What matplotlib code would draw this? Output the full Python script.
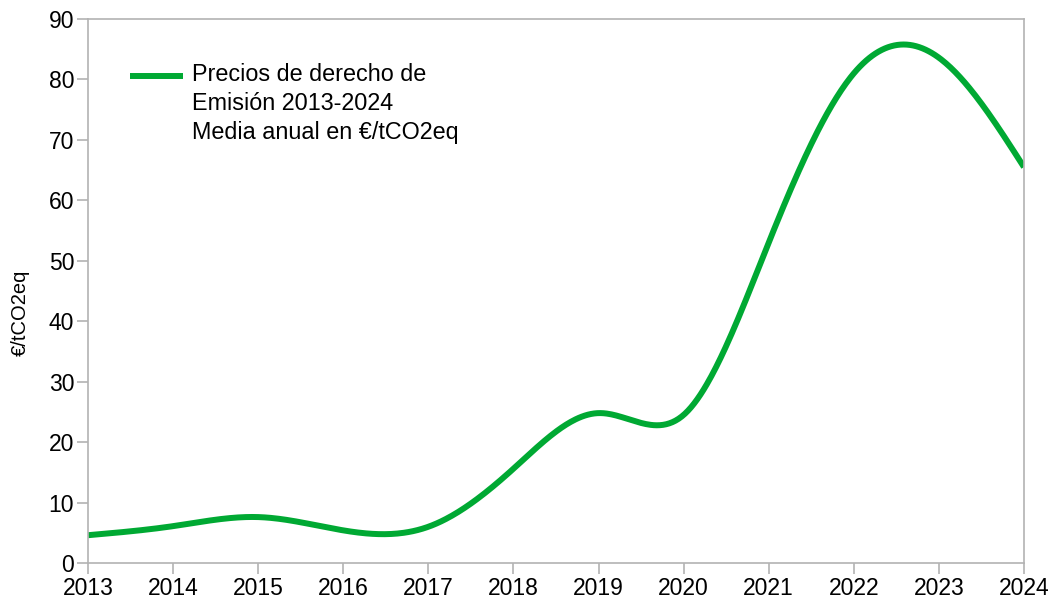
import matplotlib.pyplot as plt
import numpy as np

plt.rcParams['font.family'] = ['Liberation Sans', 'DejaVu Sans']

years = [2013, 2014, 2015, 2016, 2017, 2018, 2019, 2020, 2021, 2022, 2023, 2024]
precios = [4.6, 6.1, 7.6, 5.4, 6.0, 15.6, 24.8, 24.5, 53.0, 81.0, 83.6, 65.5]
etiqueta = 'Precios de derecho de\nEmisión 2013-2024\nMedia anual en €/tCO2eq'


def natural_spline(x, y, n=600):
    """Smooth the line like the spreadsheet's cubic spline option."""
    x = np.asarray(x, float)
    y = np.asarray(y, float)
    k = len(x)
    h = np.diff(x)
    A = np.zeros((k, k))
    b = np.zeros(k)
    A[0, 0] = 1
    A[-1, -1] = 1
    for i in range(1, k - 1):
        A[i, i - 1] = h[i - 1]
        A[i, i] = 2 * (h[i - 1] + h[i])
        A[i, i + 1] = h[i]
        b[i] = 6 * ((y[i + 1] - y[i]) / h[i] - (y[i] - y[i - 1]) / h[i - 1])
    M = np.linalg.solve(A, b)
    xs = np.linspace(x[0], x[-1], n)
    idx = np.clip(np.searchsorted(x, xs) - 1, 0, k - 2)
    x0, x1 = x[idx], x[idx + 1]
    hh = x1 - x0
    t0 = x1 - xs
    t1 = xs - x0
    ys = (M[idx] * t0**3 + M[idx + 1] * t1**3) / (6 * hh) \
        + (y[idx] / hh - M[idx] * hh / 6) * t0 \
        + (y[idx + 1] / hh - M[idx + 1] * hh / 6) * t1
    return xs, ys


fig = plt.figure(figsize=(10.54, 6.05), dpi=100)
ax = fig.add_axes([0.0835, 0.0694, 0.888, 0.8992])

verde = '#00a933'
xs, ys = natural_spline(years, precios)
ax.plot(xs, ys, color=verde, lw=4.3, solid_capstyle='butt')

ax.set_xlim(2013, 2024)
ax.set_ylim(0, 90)
ax.set_xticks(years)
ax.set_yticks(range(0, 91, 10))
ax.tick_params(colors='#b3b3b3', labelcolor='black', labelsize=16.5, length=8, width=1.2, pad=2)
for s in ax.spines.values():
    s.set_color('#b3b3b3')
    s.set_linewidth(1.2)
ax.set_ylabel('€/tCO2eq', fontsize=14.5)
ax.yaxis.set_label_coords(-0.062, 0.46)

# legend drawn by hand: key sits beside the first text line
ax.plot([0.045, 0.1015], [0.895, 0.895], transform=ax.transAxes, color=verde, lw=4.3,
        solid_capstyle='butt')
ax.text(0.111, 0.919, etiqueta, transform=ax.transAxes, fontsize=16.8, va='top',
        ha='left', linespacing=1.33)

fig.savefig('out.png', dpi=100)
